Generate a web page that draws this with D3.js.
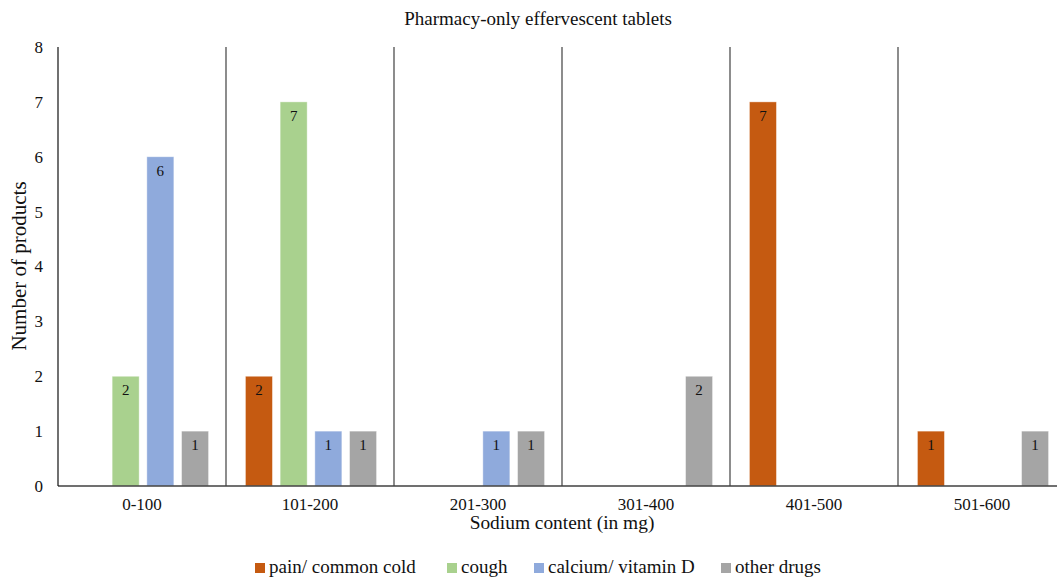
<!DOCTYPE html>
<html>
<head>
<meta charset="utf-8">
<script src="https://cdn.jsdelivr.net/npm/d3@7"></script>
<style>
  body { margin: 0; background: #fff; }
  svg { display: block; font-family: "Liberation Serif", "Times New Roman", serif; }
</style>
</head>
<body>
<div id="chart"></div>
<script>
// Chart data
const categories = ['0-100', '101-200', '201-300', '301-400', '401-500', '501-600'];
const seriesNames = ['pain/ common cold', 'cough', 'calcium/ vitamin D', 'other drugs'];
const painValues = [0, 2, 0, 0, 7, 1];
const coughValues = [2, 7, 0, 0, 0, 0];
const calciumValues = [6, 1, 1, 0, 0, 0];
const otherValues = [1, 1, 1, 2, 0, 1];
const yTicks = [0, 1, 2, 3, 4, 5, 6, 7, 8];
const colours = ['#C55A11', '#A9D18E', '#8FAADC', '#A5A5A5'];

const seriesValues = [painValues, coughValues, calciumValues, otherValues];

const W = 1057, H = 580;
const margin = { top: 47, left: 58, bottom: 94 };
const bandWidth = 168;

const svg = d3.select('#chart')
  .append('svg')
  .attr('width', W)
  .attr('height', H);

// Scales
const x = d3.scaleBand()
  .domain(categories)
  .range([margin.left, margin.left + bandWidth * categories.length])
  .padding(0);

const xInner = d3.scaleBand()
  .domain(seriesNames)
  .range([1, x.bandwidth() + 1])
  .paddingInner(0.222)
  .paddingOuter(0.531);

const y = d3.scaleLinear()
  .domain([0, 8])
  .range([H - margin.bottom, margin.top]);

const colour = d3.scaleOrdinal().domain(seriesNames).range(colours);

// Y axis tick labels
svg.append('g')
  .selectAll('text')
  .data(yTicks)
  .enter()
  .append('text')
  .attr('x', margin.left - 15)
  .attr('y', d => y(d))
  .attr('dy', '0.35em')
  .attr('text-anchor', 'end')
  .style('font-size', '17px')
  .style('fill', '#111')
  .text(d => d);

// Category separators (full height)
svg.append('g')
  .selectAll('line')
  .data(categories.slice(1))
  .enter()
  .append('line')
  .attr('x1', d => x(d))
  .attr('x2', d => x(d))
  .attr('y1', y(8))
  .attr('y2', y(0))
  .attr('stroke', '#404040')
  .attr('stroke-width', 1.2);

// Bars
const rows = [];
categories.forEach((c, i) => {
  seriesNames.forEach((s, j) => {
    if (seriesValues[j][i] > 0) rows.push({ cat: c, series: s, value: seriesValues[j][i] });
  });
});

svg.append('g')
  .selectAll('rect')
  .data(rows)
  .enter()
  .append('rect')
  .attr('x', d => x(d.cat) + xInner(d.series))
  .attr('y', d => y(d.value))
  .attr('width', xInner.bandwidth())
  .attr('height', d => y(0) - y(d.value))
  .attr('fill', d => colour(d.series))
  .attr('stroke', '#fff')
  .attr('stroke-opacity', 0.5)
  .attr('stroke-width', 0.8);

svg.append('g')
  .selectAll('text')
  .data(rows)
  .enter()
  .append('text')
  .attr('x', d => x(d.cat) + xInner(d.series) + xInner.bandwidth() / 2)
  .attr('y', d => y(d.value) + 19)
  .attr('text-anchor', 'middle')
  .style('font-size', '15px')
  .style('fill', '#111')
  .text(d => d.value);

// Axes lines
svg.append('line')
  .attr('x1', margin.left).attr('x2', W)
  .attr('y1', y(0)).attr('y2', y(0))
  .attr('stroke', '#404040').attr('stroke-width', 1.5);

svg.append('line')
  .attr('x1', margin.left).attr('x2', margin.left)
  .attr('y1', y(8)).attr('y2', y(0))
  .attr('stroke', '#111').attr('stroke-width', 1.2);

// X tick labels
svg.append('g')
  .selectAll('text')
  .data(categories)
  .enter()
  .append('text')
  .attr('x', d => x(d) + x.bandwidth() / 2)
  .attr('y', y(0) + 24)
  .attr('text-anchor', 'middle')
  .style('font-size', '17px')
  .style('fill', '#111')
  .text(d => d);

// Title and axis titles
svg.append('text')
  .attr('x', 538)
  .attr('y', 25)
  .attr('text-anchor', 'middle')
  .style('font-size', '19px')
  .style('fill', '#111')
  .text('Pharmacy-only effervescent tablets');

svg.append('text')
  .attr('x', 562)
  .attr('y', 529)
  .attr('text-anchor', 'middle')
  .style('font-size', '19.4px')
  .style('fill', '#111')
  .text('Sodium content (in mg)');

svg.append('text')
  .attr('transform', `translate(26, 266) rotate(-90)`)
  .attr('text-anchor', 'middle')
  .style('font-size', '21px')
  .style('fill', '#111')
  .text('Number of products');

// Legend
const legendX = [255, 447, 534, 721];
const legend = svg.append('g')
  .selectAll('g')
  .data(seriesNames)
  .enter()
  .append('g')
  .attr('transform', (d, i) => `translate(${legendX[i]}, 563)`);

legend.append('rect')
  .attr('width', 10)
  .attr('height', 10)
  .attr('fill', d => colour(d));

legend.append('text')
  .attr('x', 14)
  .attr('y', 10)
  .style('font-size', '19px')
  .style('fill', '#111')
  .text(d => d);
</script>
</body>
</html>
